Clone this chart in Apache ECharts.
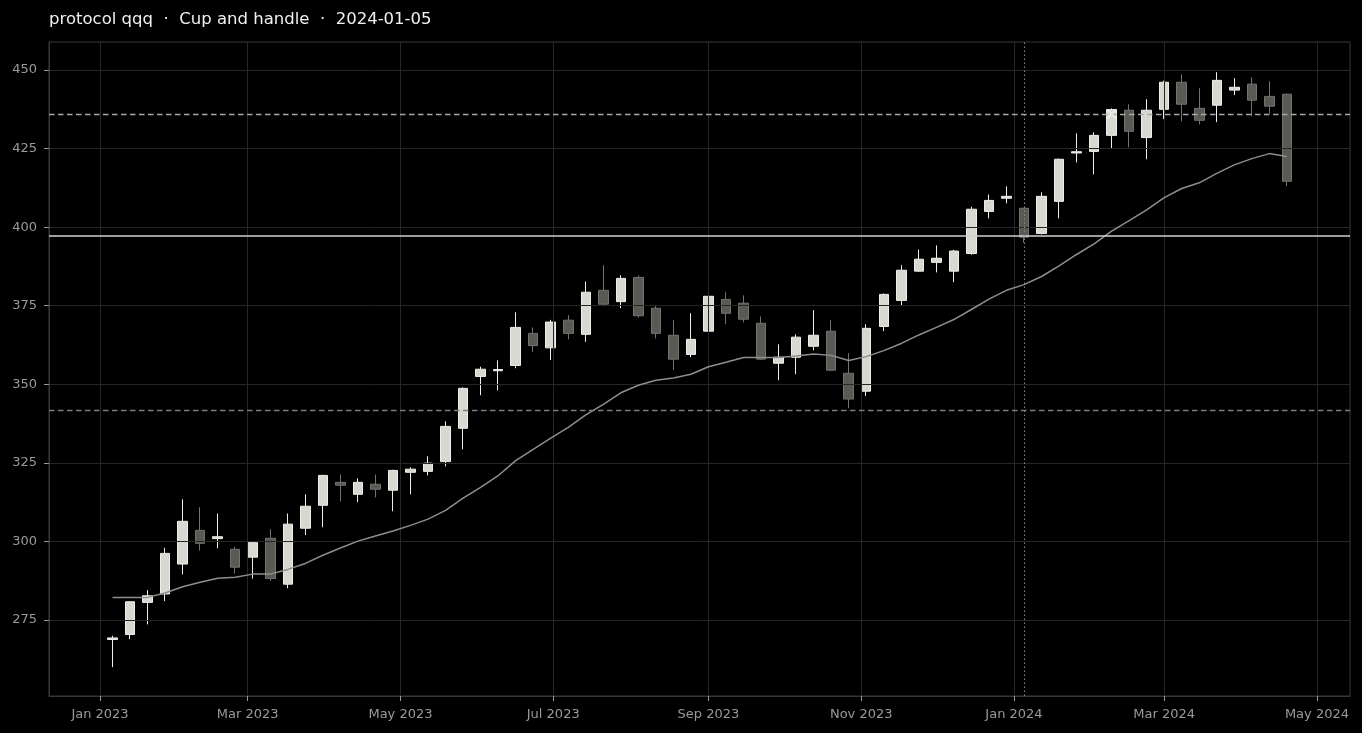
<!DOCTYPE html>
<html><head><meta charset="utf-8">
<script src="https://cdn.jsdelivr.net/npm/echarts@6/dist/echarts.min.js"></script>
<style>html,body{margin:0;padding:0;background:#000;}#c{width:1362px;height:733px;}</style>
</head><body><div id="c"></div>
<script>
const titleText = 'protocol qqq  \u00b7  Cup and handle  \u00b7  2024-01-05';
const dates = ['2023-01-06','2023-01-13','2023-01-20','2023-01-27','2023-02-03','2023-02-10','2023-02-17','2023-02-24',
'2023-03-03','2023-03-10','2023-03-17','2023-03-24','2023-03-31','2023-04-07','2023-04-14','2023-04-21','2023-04-28',
'2023-05-05','2023-05-12','2023-05-19','2023-05-26','2023-06-02','2023-06-09','2023-06-16','2023-06-23','2023-06-30',
'2023-07-07','2023-07-14','2023-07-21','2023-07-28','2023-08-04','2023-08-11','2023-08-18','2023-08-25',
'2023-09-01','2023-09-08','2023-09-15','2023-09-22','2023-09-29','2023-10-06','2023-10-13','2023-10-20','2023-10-27',
'2023-11-03','2023-11-10','2023-11-17','2023-11-24','2023-12-01','2023-12-08','2023-12-15','2023-12-22','2023-12-29',
'2024-01-05','2024-01-12','2024-01-19','2024-01-26','2024-02-02','2024-02-09','2024-02-16','2024-02-23',
'2024-03-01','2024-03-08','2024-03-15','2024-03-22','2024-03-29','2024-04-05','2024-04-12','2024-04-19'];
const opens = [268.8,270.4,280.6,283.3,292.8,303.5,300.9,297.5,295.0,301.0,286.4,304.2,311.5,318.8,315.0,318.2,316.3,
322.0,322.3,325.4,336.0,352.5,354.3,356.0,366.2,361.6,370.4,365.9,379.9,376.3,384.0,374.2,365.6,359.5,366.9,377.0,
375.8,369.4,356.7,358.6,362.1,366.9,353.5,347.8,368.4,376.7,386.0,388.8,386.0,391.6,405.0,409.2,406.0,398.0,408.2,
423.6,424.1,429.2,437.2,428.5,437.5,446.1,437.8,438.8,443.6,445.5,441.6,442.3];
const closes = [269.3,280.8,282.7,296.2,306.4,299.4,301.5,291.8,299.6,288.2,305.5,311.2,321.0,317.9,318.8,316.6,322.6,
323.0,324.9,336.6,348.7,354.8,354.7,368.1,362.3,369.8,366.2,379.3,375.5,383.7,371.8,366.2,358.0,364.3,378.0,372.6,
370.7,358.0,358.6,365.0,365.6,354.5,345.3,367.8,378.6,386.3,389.8,390.1,392.4,405.7,408.5,409.8,396.8,409.8,421.6,
424.0,429.2,437.4,430.5,437.2,446.1,439.1,434.0,446.7,444.5,440.4,438.5,414.6];
const lows = [260.0,268.9,273.6,281.0,289.5,297.1,297.8,289.8,288.2,287.4,285.1,302.0,304.5,312.8,312.5,314.0,309.6,
315.0,321.0,323.9,329.3,346.5,348.1,355.1,360.2,357.7,364.3,363.5,375.2,374.2,371.2,364.6,354.5,358.6,364.3,369.2,
369.7,357.8,351.3,353.2,360.8,354.2,342.4,346.3,366.9,375.2,385.8,385.6,382.5,391.2,402.8,407.6,395.0,397.7,402.8,
420.6,416.8,425.1,425.4,421.6,434.4,433.7,432.7,433.4,442.0,435.3,436.2,413.0];
const highs = [270.0,281.0,284.5,298.0,313.4,310.9,308.9,298.3,299.9,303.9,308.9,315.0,321.2,321.3,320.1,321.3,322.8,
323.6,327.1,338.2,349.0,355.6,357.6,372.9,368.1,370.5,372.0,382.7,387.9,384.7,384.7,375.2,370.4,372.6,380.9,379.3,
378.3,371.6,362.7,365.9,373.6,370.4,359.9,369.1,378.9,387.9,392.9,394.2,392.8,406.5,410.4,413.0,406.2,411.1,421.8,
429.8,430.2,437.8,439.1,440.7,446.6,448.6,444.2,449.3,447.4,447.7,446.4,442.5];
const ma = [282.2,282.2,282.2,283.6,285.6,287.0,288.3,288.6,289.6,289.6,291.1,293.0,295.6,297.9,300.1,301.7,303.3,
305.1,307.1,309.9,313.8,317.2,320.9,325.7,329.3,332.9,336.3,340.3,343.6,347.3,349.7,351.3,352.0,353.2,355.6,357.0,
358.5,358.5,358.5,359.0,359.6,359.2,357.6,358.8,360.7,363.0,365.7,368.1,370.6,373.8,377.1,379.9,381.7,384.3,387.7,
391.3,394.7,398.7,402.1,405.5,409.4,412.3,414.1,417.1,419.8,421.8,423.4,422.5];
const resistance = 436.0;
const pivot = 397.2;
const support = 341.8;
const signalDate = '2024-01-05';
const breakoutDate = '2024-02-09';
const breakoutValue = 436.0;
const xTickDates = ['2023-01-01','2023-03-01','2023-05-01','2023-07-01','2023-09-01','2023-11-01','2024-01-01','2024-03-01','2024-05-01'];
const yTicks = [275,300,325,350,375,400,425,450];
const monthNames = ['Jan','Feb','Mar','Apr','May','Jun','Jul','Aug','Sep','Oct','Nov','Dec'];

const DAY = 86400000;
const toTs = d => Date.parse(d + 'T00:00:00Z');
const base = toTs('2023-01-01');
const xMin = base - 20.37 * DAY;
const xMax = base + 499.2 * DAY;

const candleData = dates.map((d, i) => [toTs(d), opens[i], closes[i], lows[i], highs[i]]);
const maData = dates.map((d, i) => [toTs(d), ma[i]]);
const xTicks = xTickDates.map(toTs);

const chart = echarts.init(document.getElementById('c'), null, {renderer: 'canvas'});
chart.setOption({
  animation: false,
  backgroundColor: '#000000',
  textStyle: {fontFamily: 'DejaVu Sans'},
  title: {
    text: titleText, left: 44, top: 6,
    textStyle: {color: '#f0f0f0', fontSize: 16.5, fontWeight: 'normal', fontFamily: 'DejaVu Sans'}
  },
  grid: {left: 49, right: 12, top: 42, bottom: 37, show: true, borderColor: '#383838', borderWidth: 1},
  xAxis: {
    type: 'value', min: xMin, max: xMax, z: 2,
    axisLine: {show: true, lineStyle: {color: '#383838'}},
    axisTick: {show: true, length: 5, customValues: xTicks, lineStyle: {color: '#9a9a9a'}},
    axisLabel: {
      customValues: xTicks, color: '#9a9a9a', fontSize: 13, margin: 12,
      formatter: v => { const d = new Date(v); return monthNames[d.getUTCMonth()] + ' ' + d.getUTCFullYear(); }
    },
    splitLine: {show: true, lineStyle: {color: '#262626', width: 1}}
  },
  yAxis: {
    type: 'value', min: 250.82, max: 458.91, z: 2, scale: true,
    axisLine: {show: true, lineStyle: {color: '#383838'}},
    axisTick: {show: true, length: 5, customValues: yTicks, lineStyle: {color: '#9a9a9a'}},
    axisLabel: {customValues: yTicks, color: '#9a9a9a', fontSize: 13, margin: 12},
    splitLine: {show: true, lineStyle: {color: '#262626', width: 1}}
  },
  series: [
    {
      type: 'candlestick', z: 1, barWidth: 10,
      data: candleData, encode: {x: 0, y: [1, 2, 3, 4]},
      itemStyle: {color: '#d8d8d1', color0: '#5a5a55', borderColor: '#efefe9', borderColor0: '#737370', borderWidth: 1}
    },
    {
      type: 'line', z: 3, data: maData, showSymbol: false, symbol: 'none',
      lineStyle: {color: '#8e8e8e', width: 1.5},
      markLine: {
        silent: true, symbol: 'none', label: {show: false},
        data: [
          {yAxis: resistance, lineStyle: {type: [5.5, 3.5], color: '#a9a9a9', width: 1.3}},
          {yAxis: pivot, lineStyle: {type: 'solid', color: '#d0d0d0', width: 1.6}},
          {yAxis: support, lineStyle: {type: [5.5, 3.5], color: '#7c7c7c', width: 1.3}},
          {xAxis: toTs(signalDate), lineStyle: {type: [1.5, 2.5], color: '#8a8a8a', width: 1}}
        ]
      }
    },
    {
      type: 'scatter', z: 5, data: [[toTs(breakoutDate), breakoutValue]],
      symbol: 'path://M0,0L10,10M10,0L0,10', symbolSize: 9,
      itemStyle: {color: 'rgba(0,0,0,0)', borderColor: '#eeeeee', borderWidth: 2}
    }
  ]
});
</script>
</body></html>
